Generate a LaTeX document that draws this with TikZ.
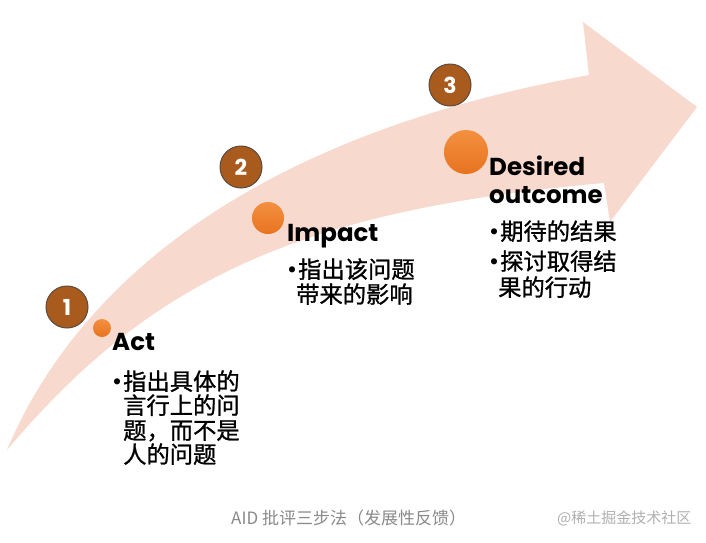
\documentclass[tikz,border=0pt]{standalone}
\usepackage{fontspec}
\setmainfont{Poppins}
\newfontfamily\cjk{Noto Sans CJK SC}
\newfontfamily\cjkheavy[AutoFakeBold=1.0]{Noto Sans CJK SC}
\newfontfamily\headfont{Poppins}
\usetikzlibrary{shadings}
\definecolor{arrowpink}{HTML}{F8D9CD}
\definecolor{numbrown}{HTML}{A95A1D}
\definecolor{numedge}{HTML}{5A4A40}
\definecolor{dotlight}{HTML}{F39040}
\definecolor{dotdark}{HTML}{E8731F}
\definecolor{captiongray}{HTML}{8A8A8A}
\definecolor{markgray}{HTML}{B0B0B0}
\tikzset{
  numcirc/.style={circle, fill=numbrown, draw=numedge, line width=1pt, minimum size=42pt, inner sep=0pt,
    text=white, font=\headfont\bfseries\fontsize{22}{22}\selectfont},
  stepdot/.style={circle, inner sep=0pt, draw=none, top color=dotlight, bottom color=dotdark},
  headtxt/.style={anchor=base west, inner sep=0pt, font=\headfont\bfseries\fontsize{24.5}{24.5}\selectfont},
  cjktxt/.style={anchor=base west, inner sep=0pt, font=\cjkheavy\bfseries\fontsize{23.3}{24}\selectfont},
  bul/.style={anchor=base west, inner sep=0pt, font=\headfont\bfseries\fontsize{20}{20}\selectfont},
}
\begin{document}
\begin{tikzpicture}[x=1pt,y=-1pt]
\useasboundingbox (0,0) rectangle (706,542);
\fill[white] (0,0) rectangle (706,542);
% big curved arrow
\fill[arrowpink] (7,450) .. controls (70,300) and (230,140) .. (589,75)
  -- (583,22) -- (697,107) -- (610,222) -- (604,183)
  .. controls (300,210) and (150,280) .. (7,450) -- cycle;
% number circles
\node[numcirc] (n1) at (67,307) {1};
\node[numcirc] (n2) at (241,167) {2};
\node[numcirc] (n3) at (450,85) {3};
% orange dots
\node[stepdot, minimum size=18pt] (d1) at (102,328) {};
\node[stepdot, minimum size=32pt] (d2) at (268,218) {};
\node[stepdot, minimum size=44pt] (d3) at (466,152) {};
% headings
\node[headtxt] (hact) at (112,350) {Act};
\node[headtxt] (himp) at (287,241) {Impact};
\node[headtxt] (hdes) at (489,175) {Desired};
\node[headtxt] (hout) at (489,203) {outcome};
% Act texts
\node[bul] (b1) at (112,388) {•};
\node[cjktxt] (a1) at (123,390) {指出具体的};
\node[cjktxt] (a2) at (123,414) {言行上的问};
\node[cjktxt] (a3) at (123,439) {题，而不是};
\node[cjktxt] (a4) at (123,463) {人的问题};
% Impact texts
\node[bul] (b2) at (287,276) {•};
\node[cjktxt] (i1) at (298,278) {指出该问题};
\node[cjktxt] (i2) at (296,303) {带来的影响};
% Desired texts
\node[bul] (b3) at (489,238) {•};
\node[cjktxt] (o1) at (500,240) {期待的结果};
\node[bul] (b4) at (489,268) {•};
\node[cjktxt] (o2) at (500,270) {探讨取得结};
\node[cjktxt] (o3) at (498,296) {果的行动};
% caption
\node[anchor=base west, inner sep=0pt, text=captiongray, font=\cjk\fontsize{17}{17}\selectfont] (cap) at (231,524) {AID 批评三步法（发展性反馈）};
\node[anchor=base west, inner sep=0pt, text=markgray, font=\cjk\fontsize{15}{15}\selectfont] (wm) at (557,523) {@稀土掘金技术社区};
\end{tikzpicture}
\end{document}
